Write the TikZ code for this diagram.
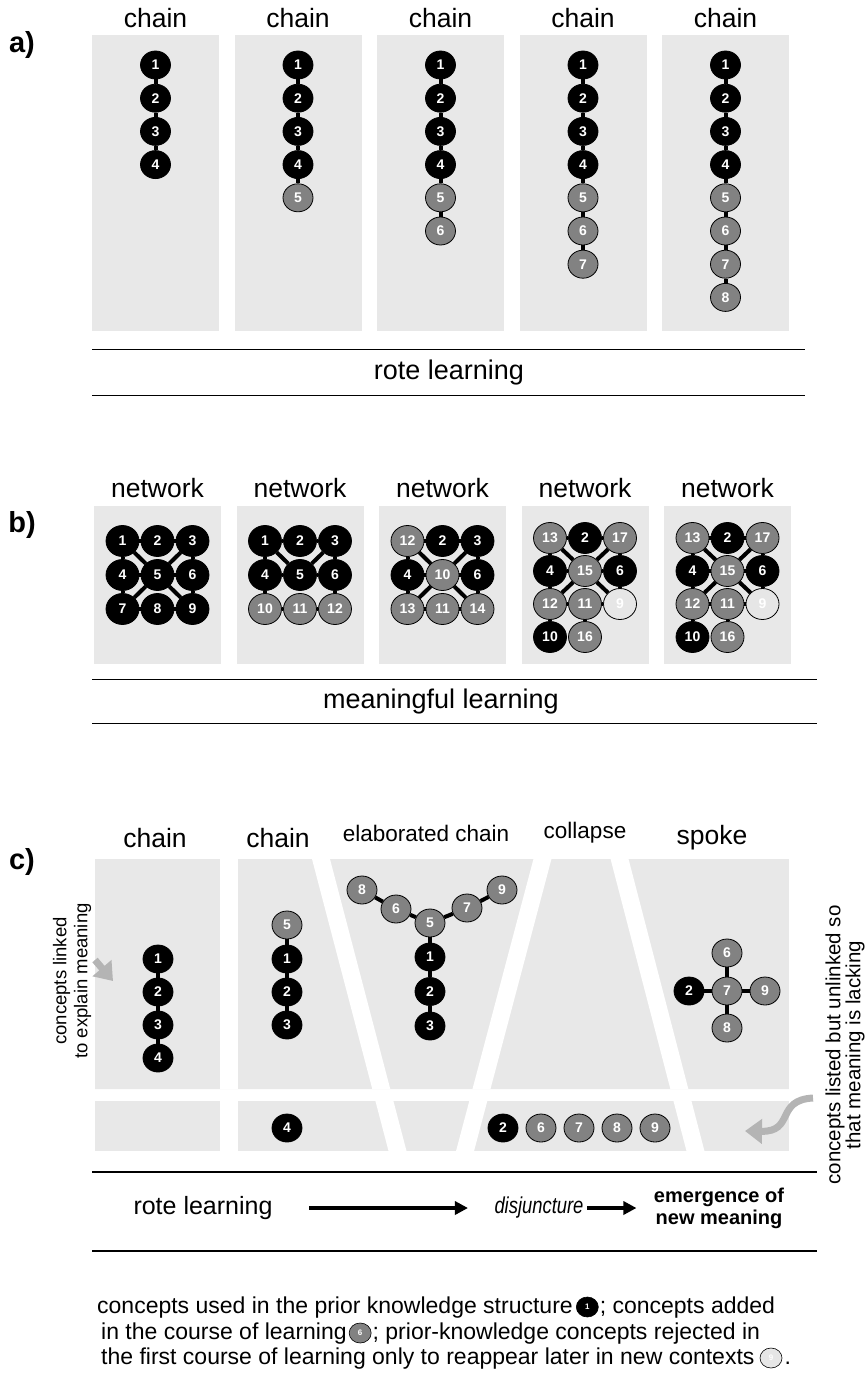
\documentclass[tikz,border=0pt]{standalone}
\usepackage{fontspec}
\setmainfont{Liberation Sans}
\newfontfamily\narrowfont[FakeStretch=0.8]{Liberation Sans}
\usetikzlibrary{shapes.geometric,positioning,arrows.meta}
\definecolor{panelgray}{HTML}{E8E8E8}
\definecolor{addgray}{HTML}{828282}
\definecolor{backgray}{HTML}{E6E6E6}
\definecolor{hintgray}{HTML}{B4B4B4}
\tikzset{
  cpt/.style={ellipse, draw=black, line width=0.8pt, minimum width=30pt, minimum height=28pt,
    inner sep=0pt, text=white, font=\fontsize{14}{14}\selectfont\bfseries},
  old/.style={cpt, fill=black},
  new/.style={cpt, fill=addgray},
  back/.style={cpt, fill=backgray},
  big/.style={minimum width=33pt, minimum height=31pt},
  link/.style={line width=4pt},
  title/.style={font=\fontsize{26.5}{26.5}\selectfont},
  caption/.style={font=\fontsize{27}{27}\selectfont},
  subtitle/.style={font=\fontsize{22.5}{22.5}\selectfont},
  part/.style={font=\fontsize{29}{29}\selectfont\bfseries},
  rule/.style={line width=1pt},
  heavy rule/.style={line width=2.5pt},
  panel/.style={fill=panelgray},
  flow/.style={line width=3.5pt, -{Triangle[length=13pt,width=13pt]}},
  hint/.style={hintgray, line width=7pt, -{Triangle[length=17pt,width=24pt]}},
  note/.style={font=\fontsize{18.5}{21}\selectfont, align=center},
  legend/.style={font=\fontsize{23}{23}\selectfont, inner sep=0pt, text height=17pt, text depth=5pt},
  key/.style={ellipse, draw=black, line width=0.6pt, minimum width=22pt, minimum height=20pt,
    inner sep=0pt, text=white, font=\fontsize{8}{8}\selectfont\bfseries},
}

\begin{document}
\begin{tikzpicture}[x=1pt,y=-1pt]
  \useasboundingbox (0,0) rectangle (865,1378);

  % a) rote learning
  \node[part] (pa) at (22,45) {a)};
  \foreach \n [count=\i] in {4,...,8} {
    \pgfmathsetmacro\px{92+142.5*(\i-1)}
    \fill[panel] (\px,35) rectangle ++(127,296);
    \node[title] (ta\i) at (\px+63.5,18) {chain};
    \foreach \k in {1,...,\n} {
      \ifnum\k<5
        \node[old] (a\i-\k) at (\px+63.5,65+33.2*\k-33.2) {\k};
      \else
        \node[new] (a\i-\k) at (\px+63.5,65+33.2*\k-33.2) {\k};
      \fi
    }
    \foreach \k [remember=\k as \j (initially 1)] in {2,...,\n}
      \draw[link] (a\i-\j) -- (a\i-\k);
  }
  \draw[rule] (92,349) -- (805,349);
  \node[caption] (ra) at (449,373) {rote learning};
  \draw[rule] (92,395) -- (805,395);

  % b) meaningful learning
  \node[part] (pb) at (22,525) {b)};
  \foreach \i in {1,...,5} {
    \pgfmathsetmacro\px{94+142.5*(\i-1)}
    \fill[panel] (\px,506) rectangle ++(127,158);
    \node[title] (tb\i) at (\px+63.5,488) {network};
  }
  \begin{scope}[xshift=157.5pt]
    \foreach \n/\c/\r/\s in {1/-1/0/old, 2/0/0/old, 3/1/0/old, 4/-1/1/old, 5/0/1/old,
                             6/1/1/old, 7/-1/2/old, 8/0/2/old, 9/1/2/old}
      \node[\s,big] (b1-\n) at (35*\c,541+34*\r) {\n};
    \foreach \u/\v in {1/2, 2/3, 1/4, 4/7, 3/6, 6/9, 4/5, 5/6, 7/8, 8/9, 1/5, 3/5, 7/5, 9/5}
      \draw[link] (b1-\u) -- (b1-\v);
  \end{scope}
  \begin{scope}[xshift=300pt]
    \foreach \n/\c/\r/\s in {1/-1/0/old, 2/0/0/old, 3/1/0/old, 4/-1/1/old, 5/0/1/old,
                             6/1/1/old, 10/-1/2/new, 11/0/2/new, 12/1/2/new}
      \node[\s,big] (b2-\n) at (35*\c,541+34*\r) {\n};
    \foreach \u/\v in {1/2, 2/3, 1/4, 3/6, 4/5, 5/6, 1/5, 3/5, 4/10, 6/12, 10/11, 11/12}
      \draw[link] (b2-\u) -- (b2-\v);
  \end{scope}
  \begin{scope}[xshift=442.5pt]
    \foreach \n/\c/\r/\s in {12/-1/0/new, 2/0/0/old, 3/1/0/old, 4/-1/1/old, 10/0/1/new,
                             6/1/1/old, 13/-1/2/new, 11/0/2/new, 14/1/2/new}
      \node[\s,big] (b3-\n) at (35*\c,541+34*\r) {\n};
    \foreach \u/\v in {12/2, 2/3, 12/4, 3/6, 4/10, 10/6, 12/10, 3/10, 13/10, 14/10,
                       4/13, 6/14, 13/11, 11/14}
      \draw[link] (b3-\u) -- (b3-\v);
  \end{scope}
  \foreach \i/\cx in {4/585, 5/727.5} {
    \begin{scope}[xshift=\cx pt]
      \foreach \n/\c/\r/\s in {13/-1/0/new, 2/0/0/old, 17/1/0/new, 4/-1/1/old, 15/0/1/new,
                               6/1/1/old, 12/-1/2/new, 11/0/2/new, 9/1/2/back,
                               10/-1/3/old, 16/0/3/new}
        \node[\s,big] (b\i-\n) at (35*\c,538+33*\r) {\n};
      \foreach \u/\v in {13/2, 2/17, 13/4, 17/6, 13/15, 17/15, 4/15, 15/6, 12/15, 9/15,
                         4/12, 6/9, 12/11, 11/9, 12/10, 11/16}
        \draw[link] (b\i-\u) -- (b\i-\v);
    \end{scope}
  }
  \draw[rule] (92,679) -- (817,679);
  \node[caption] (rb) at (441,702) {meaningful learning};
  \draw[rule] (92,723) -- (817,723);

  % c) disjuncture
  \node[part] (pc) at (22,862) {c)};
  \begin{scope}
    \clip (95,859) rectangle (789,1089) (95,1101) rectangle (789,1151);
    \fill[panel] (95,859) rectangle (789,1151);
    \draw[white, line width=17.5pt] (228.8,840) -- (228.8,1170);
    \draw[white, line width=17.4pt] (316,840) -- (402.5,1170);
    \draw[white, line width=17.4pt] (547.5,840) -- (460,1170);
    \draw[white, line width=17.4pt] (614.6,840) -- (700.4,1170);
  \end{scope}
  \node[title] (tc1) at (155,838) {chain};
  \node[title] (tc2) at (278,838) {chain};
  \node[subtitle] (tc3) at (426,833) {elaborated chain};
  \node[subtitle] (tc4) at (585,833) {collapse};
  \node[title] (tc5) at (712,838) {spoke};

  \foreach \k in {1,...,4}
    \node[old] (c1-\k) at (158,959+33*\k-33) {\k};
  \foreach \k [remember=\k as \j (initially 1)] in {2,3,4}
    \draw[link] (c1-\j) -- (c1-\k);

  \node[new] (c2-5) at (287,925) {5};
  \foreach \k in {1,2,3}
    \node[old] (c2-\k) at (287,959+33*\k-33) {\k};
  \node[old] (c2-4) at (287,1128) {4};
  \foreach \u/\v in {5/1, 1/2, 2/3}
    \draw[link] (c2-\u) -- (c2-\v);

  \foreach \n/\x/\y in {8/362/890, 6/396/909, 5/430/923, 7/467/908, 9/502/890}
    \node[new] (c3-\n) at (\x,\y) {\n};
  \foreach \k in {1,2,3}
    \node[old] (c3-\k) at (430,957+34.5*\k-34.5) {\k};
  \foreach \u/\v in {8/6, 6/5, 5/7, 7/9, 5/1, 1/2, 2/3}
    \draw[link] (c3-\u) -- (c3-\v);

  \node[old] (c4-2) at (503,1128) {2};
  \foreach \n [count=\i] in {6,7,8,9}
    \node[new] (c4-\n) at (503+38*\i,1128) {\n};

  \foreach \n/\x/\y/\s in {6/727/953/new, 7/727/991/new, 8/727/1028/new, 2/689/991/old, 9/765/991/new}
    \node[\s] (c5-\n) at (\x,\y) {\n};
  \foreach \u/\v in {6/7, 7/8, 2/7, 7/9}
    \draw[link] (c5-\u) -- (c5-\v);

  \node[note, rotate=90] (sl) at (72,981) {concepts linked\\to explain meaning};
  \node[note, rotate=90, font=\fontsize{20.5}{20}\selectfont] (sr) at (845,1045) {concepts listed but unlinked so\\that meaning is lacking};
  \coordinate (slfrom) at (95,960);
  \coordinate (slto) at (113,981);
  \draw[hint] (slfrom) -- (slto);
  \coordinate (srfrom) at (813,1098);
  \coordinate (srto) at (745,1131);
  \draw[hint] (srfrom) .. controls (775,1100) and (795,1132) .. (srto);

  \draw[heavy rule] (92,1172) -- (817,1172);
  \node[note, font=\fontsize{25}{25}\selectfont] (rl) at (203,1208) {rote learning};
  \node[note, font=\narrowfont\itshape\fontsize{23}{23}\selectfont] (dj) at (539,1208) {disjuncture};
  \node[note, font=\bfseries\fontsize{20}{22}\selectfont] (em) at (719,1208) {emergence of\\new meaning};
  \draw[flow, shorten <=33pt, shorten >=23pt] (rl) -- (dj);
  \draw[flow, shorten <=0pt, shorten >=14pt] (dj) -- (em);
  \draw[heavy rule] (92,1251) -- (817,1251);

  % legend
  \node[legend, anchor=west] (l1) at (97,1307) {concepts used in the prior knowledge structure};
  \node[key, fill=black, right=3pt of l1] (k1) {1};
  \node[legend, right=1pt of k1] (l1b) {; concepts added};
  \node[legend, anchor=west] (l2) at (101,1333) {in the course of learning};
  \node[key, fill=addgray, right=2pt of l2] (k2) {6};
  \node[legend, right=1pt of k2] (l2b) {; prior-knowledge concepts rejected in};
  \node[legend, anchor=west] (l3) at (101,1358) {the first course of learning only to reappear later in new contexts};
  \node[key, fill=backgray, right=5pt of l3] (k3) {9};
  \node[legend, right=2pt of k3] (l3b) {.};
\end{tikzpicture}
\end{document}
